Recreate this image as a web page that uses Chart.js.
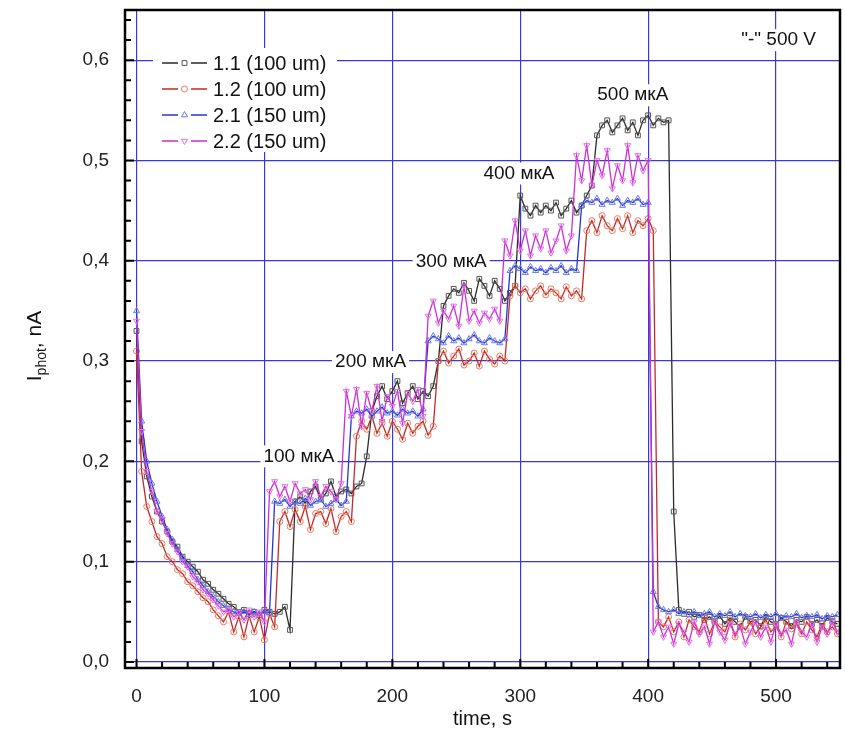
<!DOCTYPE html>
<html>
<head>
<meta charset="utf-8">
<script src="https://cdn.jsdelivr.net/npm/chart.js@4.4.0/dist/chart.umd.min.js"></script>
<style>
    html, body { margin: 0; padding: 0; background: #fff; }
</style>
</head>
<body>
<canvas id="photoChart" width="846" height="743"></canvas>
<script>
// --- 1. DATOS ---
const time = [0,4,8,12,16,20,24,28,32,36, 40,44,48,52,56,60,64,68,72,76,
    80,84,88,92,96,100,104,108,112,116, 120,124,128,132,136,140,144,148,152,156,
    160,164,168,172,176,180,184,188,192,196, 200,204,208,212,216,220,224,228,232,236,
    240,244,248,252,256,260,264,268,272,276, 280,284,288,292,296,300,304,308,312,316,
    320,324,328,332,336,340,344,348,352,356, 360,364,368,372,376,380,384,388,392,396,
    400,404,408,412,416,420,424,428,432,436, 440,444,448,452,456,460,464,468,472,476,
    480,484,488,492,496,500,504,508,512,516, 520,524,528,532,536,540,544,548];

const seriesNames = ['1.1 (100 um)', '1.2 (100 um)', '2.1 (150 um)', '2.2 (150 um)'];

const s11 = [0.33,0.22,0.185,0.165,0.15,0.14,0.13,0.12,0.115,0.105,
    0.10,0.095,0.09,0.082,0.078,0.072,0.068,0.063,0.058,0.055,
    0.05,0.052,0.048,0.05,0.047,0.052,0.05,0.048,0.05,0.055,
    0.032,0.16,0.165,0.158,0.17,0.175,0.162,0.168,0.18,0.165,
    0.17,0.172,0.168,0.175,0.178,0.205,0.25,0.265,0.275,0.262,
    0.27,0.28,0.258,0.268,0.275,0.262,0.27,0.265,0.275,0.30,
    0.355,0.365,0.372,0.368,0.378,0.37,0.36,0.382,0.375,0.365,
    0.38,0.372,0.36,0.368,0.375,0.465,0.452,0.445,0.455,0.448,
    0.455,0.45,0.458,0.445,0.452,0.46,0.448,0.455,0.465,0.475,
    0.525,0.535,0.54,0.528,0.535,0.542,0.53,0.538,0.525,0.54,
    0.545,0.535,0.542,0.538,0.54,0.15,0.052,0.048,0.05,0.045,
    0.047,0.042,0.045,0.04,0.046,0.038,0.044,0.04,0.035,0.045,
    0.04,0.042,0.036,0.045,0.04,0.038,0.044,0.04,0.036,0.042,
    0.04,0.045,0.038,0.042,0.036,0.044,0.04,0.038];

const s12 = [0.31,0.19,0.155,0.14,0.125,0.118,0.105,0.10,0.092,0.088,
    0.08,0.076,0.07,0.064,0.06,0.052,0.046,0.04,0.05,0.03,
    0.045,0.025,0.046,0.03,0.045,0.022,0.048,0.035,0.14,0.15,
    0.135,0.152,0.14,0.155,0.132,0.148,0.15,0.138,0.153,0.13,
    0.145,0.15,0.14,0.225,0.24,0.232,0.245,0.228,0.238,0.225,
    0.24,0.232,0.222,0.238,0.228,0.235,0.24,0.226,0.235,0.30,
    0.31,0.298,0.305,0.312,0.296,0.30,0.308,0.295,0.31,0.302,
    0.297,0.305,0.30,0.365,0.375,0.368,0.372,0.362,0.37,0.375,
    0.366,0.372,0.368,0.362,0.374,0.365,0.37,0.362,0.43,0.44,
    0.428,0.445,0.435,0.43,0.442,0.432,0.445,0.428,0.44,0.435,
    0.442,0.43,0.04,0.035,0.045,0.03,0.04,0.025,0.042,0.035,
    0.03,0.045,0.028,0.04,0.035,0.03,0.042,0.025,0.038,0.032,
    0.04,0.028,0.035,0.042,0.03,0.036,0.025,0.04,0.033,0.038,
    0.028,0.04,0.032,0.025,0.038,0.03,0.035,0.028];

const s21 = [0.35,0.24,0.20,0.178,0.16,0.145,0.132,0.122,0.112,0.104,
    0.096,0.09,0.082,0.076,0.07,0.065,0.06,0.056,0.052,0.05,
    0.048,0.05,0.047,0.05,0.048,0.05,0.049,0.16,0.158,0.162,
    0.155,0.16,0.158,0.163,0.156,0.16,0.162,0.155,0.158,0.162,
    0.156,0.16,0.245,0.25,0.248,0.252,0.245,0.25,0.254,0.248,
    0.25,0.246,0.252,0.248,0.25,0.245,0.252,0.32,0.325,0.322,
    0.318,0.325,0.32,0.323,0.318,0.322,0.326,0.32,0.318,0.323,
    0.32,0.318,0.322,0.39,0.395,0.392,0.388,0.394,0.39,0.392,
    0.388,0.393,0.39,0.395,0.388,0.392,0.39,0.455,0.46,0.458,
    0.462,0.456,0.46,0.458,0.462,0.455,0.46,0.458,0.462,0.456,
    0.458,0.07,0.055,0.052,0.05,0.052,0.048,0.05,0.047,0.05,
    0.046,0.048,0.05,0.045,0.048,0.046,0.05,0.045,0.048,0.046,
    0.045,0.048,0.044,0.047,0.045,0.048,0.044,0.046,0.045,0.048,
    0.044,0.046,0.045,0.047,0.043,0.046,0.045,0.047];

const s22 = [0.34,0.23,0.19,0.17,0.15,0.142,0.128,0.118,0.11,0.10,
    0.095,0.085,0.08,0.072,0.068,0.062,0.056,0.05,0.052,0.045,
    0.05,0.042,0.052,0.045,0.05,0.04,0.17,0.18,0.165,0.175,
    0.16,0.178,0.168,0.172,0.162,0.18,0.165,0.175,0.17,0.162,
    0.178,0.27,0.245,0.272,0.235,0.268,0.25,0.275,0.24,0.265,
    0.255,0.27,0.238,0.268,0.26,0.272,0.245,0.345,0.36,0.338,
    0.35,0.342,0.355,0.335,0.375,0.34,0.35,0.338,0.348,0.342,
    0.352,0.34,0.42,0.405,0.44,0.41,0.43,0.405,0.425,0.412,
    0.43,0.408,0.42,0.435,0.41,0.425,0.505,0.48,0.515,0.475,
    0.50,0.485,0.51,0.472,0.495,0.48,0.515,0.478,0.505,0.49,
    0.50,0.03,0.04,0.025,0.035,0.018,0.038,0.03,0.02,0.04,
    0.028,0.035,0.018,0.04,0.03,0.022,0.038,0.028,0.035,0.018,
    0.03,0.04,0.025,0.035,0.02,0.038,0.028,0.032,0.018,0.04,
    0.03,0.025,0.038,0.02,0.035,0.028,0.04,0.03];

const xTicks = [0, 100, 200, 300, 400, 500];
const yTicks = [0, 0.1, 0.2, 0.3, 0.4, 0.5, 0.6];

// Etiquetas de corriente sobre los escalones (posición en unidades de datos)
const stepLabels = [
    { text: '100 мкА', x: 127, y: 0.205 },
    { text: '200 мкА', x: 183, y: 0.299 },
    { text: '300 мкА', x: 246, y: 0.399 },
    { text: '400 мкА', x: 299, y: 0.487 },
    { text: '500 мкА', x: 388, y: 0.565 },
    { text: '"-" 500 V', x: 502, y: 0.62 }
];

// --- 2. ESTILOS ---
const FONT = "'Liberation Sans', Arial, sans-serif";
const gridColor = '#3a3ad0';
const styles = [
    { line: '#2b2b2b', point: '#555555', shape: 'rect', rot: 0, r: 3.4 },
    { line: '#c62828', point: '#e77a5e', shape: 'circle', rot: 0, r: 3 },
    { line: '#2436d4', point: '#6c7ae6', shape: 'triangle', rot: 0, r: 3.5 },
    { line: '#cc2fd4', point: '#e070e6', shape: 'triangle', rot: 180, r: 3.5 }
];
const allSeries = [s11, s12, s21, s22];

const datasets = allSeries.map((values, k) => ({
    label: seriesNames[k],
    data: time.map((t, i) => ({ x: t, y: values[i] })),
    borderColor: styles[k].line,
    borderWidth: 1.3,
    pointStyle: styles[k].shape,
    pointRotation: styles[k].rot,
    pointRadius: styles[k].r,
    pointBorderColor: styles[k].point,
    pointBackgroundColor: 'rgba(255,255,255,0)',
    pointBorderWidth: 1,
    tension: 0,
    order: 4 - k
}));

// --- 3. PLUGIN: marco, ticks internos, títulos, leyenda y rótulos ---
const decorPlugin = {
    id: 'decor',
    afterDatasetsDraw(chart) {
        const ctx = chart.ctx;
        const xs = chart.scales.x, ys = chart.scales.y;
        ctx.save();
        ctx.font = '19px ' + FONT;
        ctx.textAlign = 'center';
        ctx.textBaseline = 'middle';
        stepLabels.forEach(l => {
            const px = xs.getPixelForValue(l.x);
            const py = ys.getPixelForValue(l.y);
            const w = ctx.measureText(l.text).width;
            ctx.fillStyle = '#fff';
            ctx.fillRect(px - w / 2 - 3, py - 11, w + 6, 22);
            ctx.fillStyle = '#111';
            ctx.fillText(l.text, px, py);
        });
        ctx.restore();
    },
    afterDraw(chart) {
        const ctx = chart.ctx;
        const a = chart.chartArea;
        const xs = chart.scales.x, ys = chart.scales.y;
        ctx.save();

        // leyenda
        ctx.fillStyle = '#fff';
        ctx.fillRect(a.left + 28, a.top + 38, 184, 104);
        ctx.font = '20px ' + FONT;
        ctx.textBaseline = 'middle';
        ctx.textAlign = 'left';
        seriesNames.forEach((name, k) => {
            const y = a.top + 53 + k * 26;
            const x0 = a.left + 37;
            ctx.strokeStyle = styles[k].line;
            ctx.lineWidth = 1.4;
            ctx.beginPath();
            ctx.moveTo(x0, y); ctx.lineTo(x0 + 16, y);
            ctx.moveTo(x0 + 29, y); ctx.lineTo(x0 + 45, y);
            ctx.stroke();
            ctx.strokeStyle = styles[k].point;
            ctx.fillStyle = 'rgba(255,255,255,0)';
            ctx.lineWidth = 1;
            Chart.helpers.drawPoint(ctx, {
                pointStyle: styles[k].shape, rotation: styles[k].rot,
                radius: styles[k].r, borderWidth: 1
            }, x0 + 22.5, y);
            ctx.fillStyle = '#111';
            ctx.fillText(name, x0 + 51, y + 1);
        });

        // marco
        ctx.strokeStyle = '#000';
        ctx.lineWidth = 2.5;
        ctx.strokeRect(a.left, a.top, a.right - a.left, a.bottom - a.top);

        // ticks hacia dentro
        ctx.lineWidth = 2;
        ctx.beginPath();
        for (let v = 0; v <= 540; v += 20) {
            const px = xs.getPixelForValue(v);
            const len = v % 100 === 0 ? 9 : 6;
            ctx.moveTo(px, a.bottom); ctx.lineTo(px, a.bottom - len);
        }
        for (let k = 0; k <= 32; k++) {
            const py = ys.getPixelForValue(k * 0.02);
            const len = k % 5 === 0 ? 9 : 6;
            ctx.moveTo(a.left, py); ctx.lineTo(a.left + len, py);
        }
        ctx.stroke();

        // títulos de ejes
        ctx.fillStyle = '#111';
        ctx.textAlign = 'center';
        ctx.font = '20px ' + FONT;
        ctx.fillText('time, s', (a.left + a.right) / 2, 719);

        ctx.translate(35, 346);
        ctx.rotate(-Math.PI / 2);
        ctx.textAlign = 'left';
        ctx.font = '21px ' + FONT;
        const wI = ctx.measureText('I').width;
        const wRest = ctx.measureText(', nA').width;
        ctx.font = '14px ' + FONT;
        const wSub = ctx.measureText('phot').width;
        let x = -(wI + wSub + wRest) / 2;
        ctx.font = '21px ' + FONT;
        ctx.fillText('I', x, 0);
        x += wI;
        ctx.font = '14px ' + FONT;
        ctx.fillText('phot', x, 7);
        x += wSub;
        ctx.font = '21px ' + FONT;
        ctx.fillText(', nA', x, 0);
        ctx.restore();
    }
};

// --- 4. GRÁFICO ---
const ctx = document.getElementById('photoChart').getContext('2d');
new Chart(ctx, {
    type: 'line',
    data: { datasets: datasets },
    options: {
        responsive: false,
        animation: false,
        layout: { padding: { top: 10, right: 6, left: 0, bottom: 0 } },
        plugins: { legend: { display: false }, tooltip: { enabled: false } },
        scales: {
            x: {
                type: 'linear', min: -9, max: 550,
                afterBuildTicks: s => { s.ticks = xTicks.map(v => ({ value: v })); },
                afterFit: s => { s.height = 75; s.paddingLeft = 0; s.paddingRight = 0; },
                grid: { color: gridColor, lineWidth: 1.2, drawTicks: false },
                border: { display: false },
                ticks: {
                    autoSkip: false, maxRotation: 0, padding: 17, color: '#222',
                    font: { family: FONT, size: 19 },
                    callback: v => String(v)
                }
            },
            y: {
                type: 'linear', min: -0.006, max: 0.65,
                afterBuildTicks: s => { s.ticks = yTicks.map(v => ({ value: v })); },
                afterFit: s => { s.width = 125; s.paddingTop = 0; s.paddingBottom = 0; },
                grid: { color: gridColor, lineWidth: 1.2, drawTicks: false },
                border: { display: false },
                ticks: {
                    autoSkip: false, padding: 16, color: '#222',
                    font: { family: FONT, size: 19 },
                    callback: v => v.toFixed(1).replace('.', ',')
                }
            }
        }
    },
    plugins: [decorPlugin]
});
</script>
</body>
</html>
